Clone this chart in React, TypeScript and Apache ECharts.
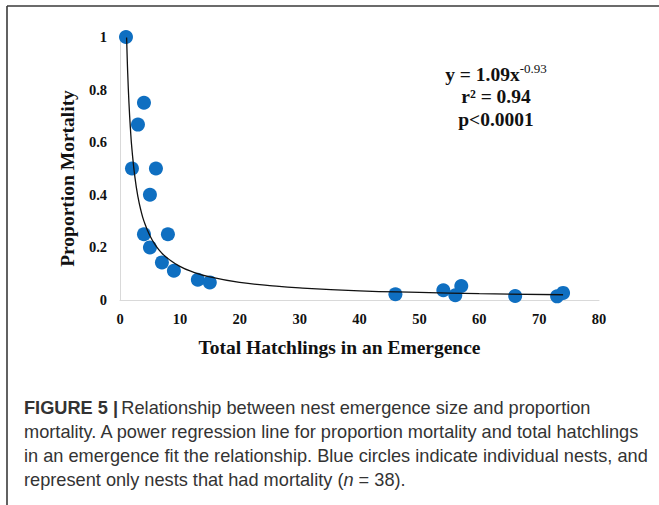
import React, { useEffect, useRef } from "react";
import * as echarts from "echarts";

const nestHatchlings = [1, 2, 3, 4, 4, 5, 5, 6, 7, 8, 9, 13, 15, 46, 54, 56, 57, 66, 73, 74];
const nestMortality = [1, 0.5, 0.667, 0.75, 0.25, 0.4, 0.2, 0.5, 0.143, 0.25, 0.111, 0.077, 0.067, 0.022, 0.037, 0.018, 0.053, 0.015, 0.014, 0.027];

// power trendline y = 1.09x^-0.93
const trendX = [1.1, 1.25, 1.5, 1.75, 2, 2.5, 3, 3.5, 4, 5, 6, 7, 8, 10, 12, 15, 20, 25, 30, 40, 50, 60, 74];
const trendY = [0.998, 0.886, 0.748, 0.648, 0.572, 0.465, 0.392, 0.34, 0.3, 0.244, 0.206, 0.178, 0.158, 0.128, 0.108, 0.088, 0.067, 0.055, 0.046, 0.035, 0.029, 0.024, 0.02];

const xTicks = [0, 10, 20, 30, 40, 50, 60, 70, 80];
const yTicks = [0, 0.2, 0.4, 0.6, 0.8, 1];
const yTickLabels = ["0", "0.2", "0.4", "0.6", "0.8", "1"];

const SERIF = "'Liberation Serif', 'Times New Roman', serif";
const SANS = "'Liberation Sans', Arial, sans-serif";
const CAP = 18.2;

export default function App() {
  const ref = useRef<HTMLDivElement>(null);
  useEffect(() => {
    if (!ref.current) return;
    const chart = echarts.init(ref.current, undefined, { renderer: "svg" });
    const option: any = {
      animation: false,
      backgroundColor: "#ffffff",
      grid: { left: 120, right: 60, top: 37, bottom: 205, containLabel: false },
      xAxis: {
        type: "value",
        min: xTicks[0],
        max: xTicks[xTicks.length - 1],
        interval: 10,
        name: "Total Hatchlings in an Emergence",
        nameLocation: "middle",
        nameGap: 37,
        nameTextStyle: { fontFamily: SERIF, fontWeight: "bold", fontSize: 19.5, color: "#111", padding: [0, 40, 0, 0] },
        axisLine: { show: true, lineStyle: { color: "#d9d9d9", width: 1 } },
        axisTick: { show: false },
        splitLine: { show: false },
        axisLabel: { fontFamily: SERIF, fontWeight: "bold", fontSize: 14.5, color: "#111", margin: 11 },
      },
      yAxis: {
        type: "value",
        min: yTicks[0],
        max: yTicks[yTicks.length - 1],
        interval: 0.2,
        name: "Proportion Mortality",
        nameLocation: "middle",
        nameGap: 43,
        nameTextStyle: { fontFamily: SERIF, fontWeight: "bold", fontSize: 19.5, color: "#111", padding: [0, 20, 0, 0] },
        axisLine: { show: true, lineStyle: { color: "#d9d9d9", width: 1 } },
        axisTick: { show: false },
        splitLine: { show: false },
        axisLabel: {
          fontFamily: SERIF,
          fontWeight: "bold",
          fontSize: 14.5,
          color: "#111",
          margin: 13,
          formatter: (v: number) => {
            const i = yTicks.findIndex((t) => Math.abs(t - v) < 1e-6);
            return i >= 0 ? yTickLabels[i] : String(v);
          },
        },
      },
      series: [
        {
          type: "line",
          data: trendX.map((x, i) => [x, trendY[i]]),
          showSymbol: false,
          smooth: true,
          lineStyle: { color: "#111", width: 1.3 },
          z: 3,
          silent: true,
        },
        {
          type: "scatter",
          data: nestHatchlings.map((x, i) => [x, nestMortality[i]]),
          symbolSize: 14,
          itemStyle: { color: "#0f6fc1", opacity: 1 },
          z: 2,
        },
      ],
      graphic: [
        {
          type: "line",
          shape: { x1: 7, y1: 6, x2: 659, y2: 6 },
          style: { stroke: "#3a3a3a", lineWidth: 1.6 },
        },
        {
          type: "line",
          shape: { x1: 7, y1: 6, x2: 7, y2: 505 },
          style: { stroke: "#3a3a3a", lineWidth: 1.6 },
        },
        {
          type: "text",
          x: 496,
          y: 73,
          style: {
            text: "{m|y = 1.09x}{s|-0.93}",
            align: "center",
            verticalAlign: "middle",
            rich: {
              m: { fontFamily: SERIF, fontWeight: "bold", fontSize: 19.5, fill: "#111", lineHeight: 22, verticalAlign: "bottom" },
              s: { fontFamily: SERIF, fontSize: 13, fill: "#111", lineHeight: 22, verticalAlign: "top", padding: [0, 0, 8, 0] },
            },
          },
        },
        {
          type: "text",
          x: 496,
          y: 96,
          style: {
            text: "r² = 0.94",
            align: "center",
            verticalAlign: "middle",
            font: `bold 19.5px ${SERIF}`,
            fill: "#111",
          },
        },
        {
          type: "text",
          x: 496,
          y: 119,
          style: {
            text: "p<0.0001",
            align: "center",
            verticalAlign: "middle",
            font: `bold 19.5px ${SERIF}`,
            fill: "#111",
          },
        },
        {
          type: "text",
          x: 24,
          y: 408,
          style: {
            text: "{b|FIGURE 5 |} {n|Relationship between nest emergence size and proportion}",
            verticalAlign: "middle",
            rich: {
              b: { fontFamily: SANS, fontWeight: "bold", fontSize: CAP, fill: "#333" },
              n: { fontFamily: SANS, fontSize: CAP, fill: "#333" },
            },
          },
        },
        {
          type: "text",
          x: 24,
          y: 432,
          style: {
            text: "mortality. A power regression line for proportion mortality and total hatchlings",
            verticalAlign: "middle",
            font: `${CAP}px ${SANS}`,
            fill: "#333",
          },
        },
        {
          type: "text",
          x: 24,
          y: 456,
          style: {
            text: "in an emergence fit the relationship. Blue circles indicate individual nests, and",
            verticalAlign: "middle",
            font: `${CAP}px ${SANS}`,
            fill: "#333",
          },
        },
        {
          type: "text",
          x: 24,
          y: 480,
          style: {
            text: "{n|represent only nests that had mortality (}{i|n}{n| = 38).}",
            verticalAlign: "middle",
            rich: {
              n: { fontFamily: SANS, fontSize: CAP, fill: "#333" },
              i: { fontFamily: SANS, fontStyle: "italic", fontSize: CAP, fill: "#333" },
            },
          },
        },
      ],
    };
    chart.setOption(option);
    return () => chart.dispose();
  }, []);
  return (
    <div
      ref={ref}
      style={{ position: "fixed", left: 0, top: 0, width: 659, height: 505, background: "#fff" }}
    />
  );
}
